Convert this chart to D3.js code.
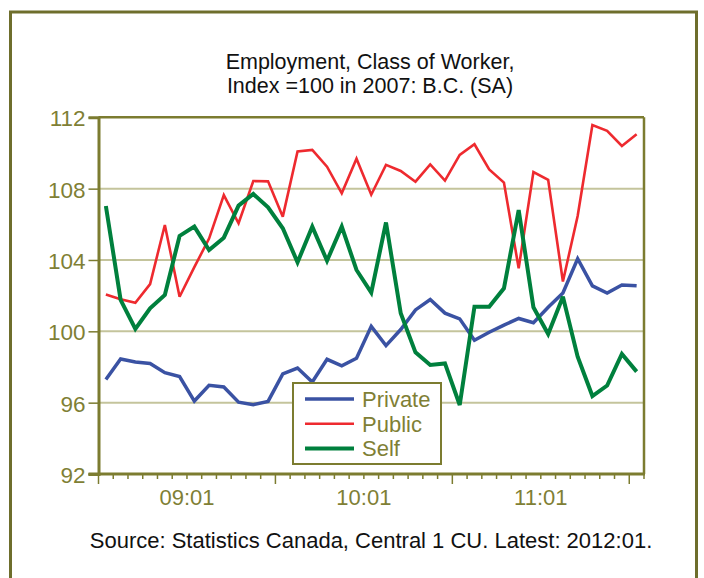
<!DOCTYPE html>
<html><head><meta charset="utf-8">
<script src="https://cdn.jsdelivr.net/npm/d3@7/dist/d3.min.js"></script>
<style>
body{margin:0;background:#fff;}
svg{display:block;font-family:"Liberation Sans",Arial,sans-serif;}
</style>
</head><body>
<svg id="chart" width="704" height="578"></svg>
<script>
const months = [
 "2009:01","2009:02","2009:03","2009:04","2009:05","2009:06","2009:07","2009:08","2009:09","2009:10","2009:11","2009:12",
 "2010:01","2010:02","2010:03","2010:04","2010:05","2010:06","2010:07","2010:08","2010:09","2010:10","2010:11","2010:12",
 "2011:01","2011:02","2011:03","2011:04","2011:05","2011:06","2011:07","2011:08","2011:09","2011:10","2011:11","2011:12",
 "2012:01"];
const privateIdx = [97.3,98.45,98.28,98.2,97.68,97.46,96.09,96.97,96.88,96.03,95.89,96.07,
 97.61,97.94,97.16,98.43,98.06,98.49,100.28,99.2,100.1,101.2,101.78,101.02,
 100.7,99.5,99.95,100.35,100.72,100.48,101.35,102.15,104.07,102.55,102.15,102.6,102.55];
const publicIdx = [102.07,101.8,101.6,102.65,105.96,101.94,103.6,105.2,107.64,106.06,108.43,108.41,
 106.43,110.09,110.17,109.23,107.74,109.68,107.66,109.33,108.99,108.39,109.36,108.45,
 109.89,110.49,109.08,108.34,103.53,108.93,108.49,102.79,106.47,111.57,111.24,110.39,111.05];
const selfIdx = [107.03,101.76,100.13,101.29,102.04,105.35,105.87,104.56,105.25,107.05,107.7,106.95,
 105.78,103.87,105.87,103.96,105.87,103.44,102.17,106.1,101.01,98.82,98.11,98.2,
 95.87,101.38,101.38,102.41,106.8,101.35,99.85,101.94,98.58,96.37,96.96,98.73,97.74];
const seriesNames = ["Private","Public","Self"];
const seriesColors = ["#3a52a3","#ee2a2f","#00803d"];
const seriesWidths = [3.5,2.6,4];
const yTicks = [92,96,100,104,108,112];
const yearLabels = ["09:01","10:01","11:01"];
const yearStarts = ["2009:01","2010:01","2011:01"];
const yearEnds = ["2009:12","2010:12","2011:12"];
const titleLines = ["Employment, Class of Worker,","Index =100 in 2007: B.C. (SA)"];
const sourceText = "Source: Statistics Canada, Central 1 CU. Latest: 2012:01.";

const olive = "#7c7c30", oliveText = "#7f7f35", grid = "#c4c49c";
const svg = d3.select("#chart");
const L = 98.5, R = 644, T = 117.3, B = 474;

// outer frame
svg.append("rect").attr("x",10.5).attr("y",12).attr("width",686).attr("height",600)
  .attr("fill","none").attr("stroke","#6e6e2c").attr("stroke-width",3);

const x = d3.scaleBand().domain(months).range([L,R]).padding(0);
const y = d3.scaleLinear().domain([92,112]).range([B,T]);

// gridlines
svg.append("g").selectAll("line").data(yTicks.filter(v=>v>92 && v<112)).join("line")
  .attr("x1",L).attr("x2",R).attr("y1",d=>y(d)).attr("y2",d=>y(d))
  .attr("stroke",grid).attr("stroke-width",2);

// plot border top/right
svg.append("line").attr("x1",L).attr("x2",R).attr("y1",T).attr("y2",T).attr("stroke",olive).attr("stroke-width",2.5);
svg.append("line").attr("x1",R).attr("x2",R).attr("y1",T).attr("y2",B).attr("stroke",olive).attr("stroke-width",2.5);

// y axis
const yAxis = d3.axisLeft(y).tickValues(yTicks).tickSize(10).tickPadding(3).tickFormat(d3.format("d"));
const gy = svg.append("g").attr("transform",`translate(${L},0)`).call(yAxis);
gy.select(".domain").attr("stroke",olive).attr("stroke-width",3);
gy.selectAll(".tick line").attr("stroke",olive).attr("stroke-width",1.5);
gy.selectAll(".tick text").attr("fill",oliveText).attr("font-size",22.5)
  .attr("font-family","Liberation Sans, Arial, sans-serif").attr("dy","0.38em");

// x axis
const bw = x.bandwidth();
const edges = months.map(m=>({pos:x(m), major:m.endsWith(":01")}));
edges.push({pos:x(months[months.length-1])+bw, major:false});
svg.append("g").selectAll("line").data(edges).join("line")
  .attr("x1",d=>d.pos).attr("x2",d=>d.pos).attr("y1",B).attr("y2",d=>d.major?B+10:B+5)
  .attr("stroke",olive).attr("stroke-width",1.5);
svg.append("line").attr("x1",L-10).attr("x2",R+1).attr("y1",B).attr("y2",B).attr("stroke",olive).attr("stroke-width",3);

svg.append("g").selectAll("text").data(yearLabels).join("text")
  .attr("x",(d,i)=>(x(yearStarts[i]) + x(yearEnds[i]) + bw)/2)
  .attr("y",505).attr("text-anchor","middle").attr("fill",oliveText).attr("font-size",22)
  .text(d=>d);

// lines
const data = [privateIdx, publicIdx, selfIdx];
const line = d3.line().x((d,i)=>x(months[i])+bw/2).y(d=>y(d));
svg.append("g").selectAll("path").data(data).join("path")
  .attr("d",line).attr("fill","none")
  .attr("stroke",(d,i)=>seriesColors[i]).attr("stroke-width",(d,i)=>seriesWidths[i])
  .attr("stroke-linejoin","miter").attr("stroke-miterlimit",3);

// legend
const lg = svg.append("g");
lg.append("rect").attr("x",293).attr("y",383).attr("width",148).attr("height",81)
  .attr("fill","#fff").attr("stroke",olive).attr("stroke-width",2);
const rows = lg.selectAll("g.row").data(seriesNames).join("g").attr("class","row")
  .attr("transform",(d,i)=>`translate(0,${399 + i*24.8})`);
rows.append("line").attr("x1",305).attr("x2",354).attr("y1",0).attr("y2",0)
  .attr("stroke",(d,i)=>seriesColors[i]).attr("stroke-width",(d,i)=>seriesWidths[i]);
rows.append("text").attr("x",362).attr("y",7.8).attr("fill",oliveText).attr("font-size",22).text(d=>d);

// title
svg.append("g").selectAll("text").data(titleLines).join("text")
  .attr("x",370).attr("y",(d,i)=>69 + i*24).attr("text-anchor","middle")
  .attr("fill","#111").attr("font-size",21.5).text(d=>d);

// source
svg.append("text").attr("x",371).attr("y",548).attr("text-anchor","middle")
  .attr("fill","#111").attr("font-size",22).text(sourceText);
</script>
</body></html>
